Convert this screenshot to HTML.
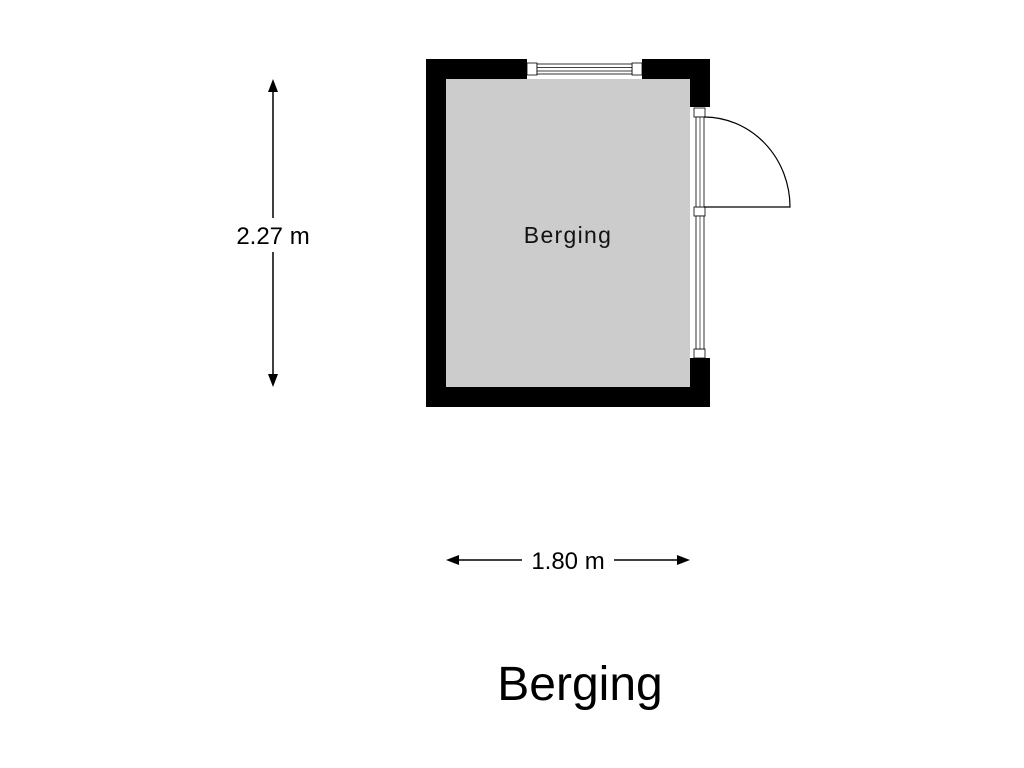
<!DOCTYPE html>
<html><head><meta charset="utf-8"><style>body{margin:0;background:#fff}svg{display:block}</style></head><body>
<svg width="1024" height="768" viewBox="0 0 1024 768" xmlns="http://www.w3.org/2000/svg" font-family="Liberation Sans, sans-serif">
<rect x="426" y="59" width="284" height="348" fill="#000"/>
<rect x="446" y="79" width="244" height="308" fill="#cccccc"/>
<rect x="527" y="59" width="115" height="20" fill="#fff"/>
<rect x="527" y="63" width="10" height="12" fill="#fff" stroke="#000" stroke-width="0.8"/>
<rect x="632" y="63" width="10" height="12" fill="#fff" stroke="#000" stroke-width="0.8"/>
<rect x="537" y="64" width="95" height="10" fill="#fff" stroke="#000" stroke-width="0.8"/>
<line x1="537" y1="67.5" x2="632" y2="67.5" stroke="#000" stroke-width="0.7"/>
<line x1="537" y1="71" x2="632" y2="71" stroke="#000" stroke-width="0.7"/>
<rect x="690" y="107" width="20" height="251" fill="#fff"/>
<rect x="694" y="108" width="11" height="9" fill="#fff" stroke="#000" stroke-width="0.8"/>
<rect x="694" y="207" width="11" height="9" fill="#fff" stroke="#000" stroke-width="0.8"/>
<rect x="694" y="349" width="11" height="9" fill="#fff" stroke="#000" stroke-width="0.8"/>
<rect x="696" y="117" width="8" height="90" fill="#fff" stroke="#000" stroke-width="0.8"/>
<line x1="700" y1="117" x2="700" y2="207" stroke="#000" stroke-width="0.6"/>
<rect x="696" y="216" width="8" height="133" fill="#fff" stroke="#000" stroke-width="0.8"/>
<line x1="700" y1="216" x2="700" y2="349" stroke="#000" stroke-width="0.6"/>
<path d="M704 117 A86 90 0 0 1 790 207 L704 207" fill="none" stroke="#000" stroke-width="1.2"/>
<text x="568" y="243" font-size="23" text-anchor="middle" letter-spacing="1.3" fill="#111">Berging</text>
<line x1="273" y1="90" x2="273" y2="375" stroke="#000" stroke-width="1.5"/>
<path d="M273 79 L268 92 L278 92 Z M273 387 L268 374 L278 374 Z" fill="#000"/>
<rect x="228" y="218" width="90" height="34" fill="#fff"/>
<text x="273" y="244" font-size="24" text-anchor="middle" fill="#000">2.27 m</text>
<line x1="456" y1="560" x2="680" y2="560" stroke="#000" stroke-width="1.5"/>
<path d="M446 560 L459 555 L459 565 Z M690 560 L677 555 L677 565 Z" fill="#000"/>
<rect x="522" y="544" width="92" height="32" fill="#fff"/>
<text x="568" y="569" font-size="24" text-anchor="middle" fill="#000">1.80 m</text>
<text x="580" y="700" font-size="48" text-anchor="middle" fill="#000">Berging</text>
</svg>
</body></html>
